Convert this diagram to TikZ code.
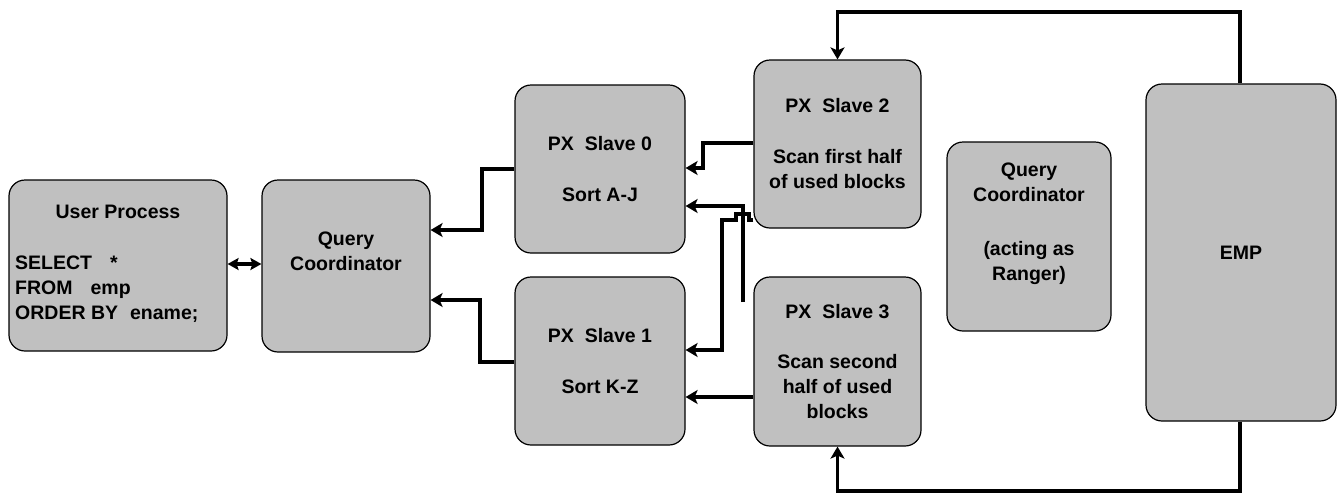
\documentclass[tikz,border=0pt]{standalone}
\usepackage{fontspec}
\setmainfont{Liberation Sans}
\usetikzlibrary{arrows.meta}

\definecolor{boxgray}{RGB}{192,192,192}

\tikzset{
	box/.style={draw=black, line width=1.2pt, fill=boxgray, rounded corners=16pt, inner sep=0pt, align=center, font=\bfseries\fontsize{19.5}{25}\selectfont},
	txt/.style={inner sep=0pt, align=center, font=\bfseries\fontsize{19.5}{25}\selectfont},
	conn/.style={line width=3.4pt, -{Stealth[length=12pt, width=14pt, inset=3pt]}},
	biconn/.style={line width=3.4pt, {Stealth[length=11pt, width=12pt, inset=2pt]}-{Stealth[length=11pt, width=12pt, inset=2pt]}}
}

\begin{document}
\begin{tikzpicture}[x=1pt, y=-1pt]
	\useasboundingbox (0,0) rectangle (1340,493);

	%user process with its query and the query coordinator
	\node[box, minimum width=218pt, minimum height=171pt] (up) at (118,265.5) {};
	\node[txt] (uptitle) at (118,212) {User Process};
	\node[txt, anchor=west, align=left] (upsql) at (15,289) {SELECT\hspace{18pt}*\\FROM\hspace{18pt}emp\\ORDER BY\hspace{12pt}ename;};
	\node[box, minimum width=168pt, minimum height=172pt] (qc) at (346,266) {};
	\node[txt] (qctxt) at (346,251) {Query\\Coordinator};

	%slaves that sort
	\node[box, minimum width=170pt, minimum height=168pt] (s0) at (600,169) {PX\ \ Slave 0\\[26pt]Sort A-J};
	\node[box, minimum width=170pt, minimum height=168pt] (s1) at (600,361) {PX\ \ Slave 1\\[26pt]Sort K-Z};

	%slaves that scan
	\node[box, minimum width=167pt, minimum height=168pt] (s2) at (837.5,144) {PX\ \ Slave 2\\[26pt]Scan first half\\of used blocks};
	\node[box, minimum width=167pt, minimum height=169pt] (s3) at (837.5,361.5) {PX\ \ Slave 3\\[25pt]Scan second\\half of used\\blocks};

	%ranger and the table
	\node[box, minimum width=164pt, minimum height=189pt] (rg) at (1029,236.5) {};
	\node[txt] (rgtxt) at (1029,223.5) {Query\\Coordinator\\[29pt](acting as\\Ranger)};
	\node[box, minimum width=190pt, minimum height=337pt] (emp) at (1241,252.5) {EMP};

	%results back to the coordinator
	\draw[biconn] (up.east |- 0,264) -- (qc.west |- 0,264);
	\draw[conn] (s0.west) -- (482,169) -- (482,230) -- (qc.east |- 0,230);
	\draw[conn] (s1.west |- 0,362) -- (480,362) -- (480,300) -- (qc.east |- 0,300);

	%rows from the scanning slaves to the sorting slaves
	\coordinate (loose) at (743,302);
	\draw[conn] (s2.west |- 0,143) -- (703,143) -- (703,168) -- (s0.east |- 0,168);
	\draw[conn] (loose) -- (743,206) -- (s0.east |- 0,206);
	\draw[conn] (s2.west |- 0,220) -- (749,220) -- (749,214) -- (736,214) -- (736,220) -- (722,220) -- (722,350) -- (s1.east |- 0,350);
	\draw[conn] (s3.west |- 0,397) -- (s1.east |- 0,397);

	%table blocks to the scanning slaves
	\draw[conn] (emp.north -| 1240,0) -- (1240,12) -- (s2.north |- 0,12) -- (s2.north);
	\draw[conn] (emp.south -| 1240,0) -- (1240,491) -- (s3.south |- 0,491) -- (s3.south);
\end{tikzpicture}
\end{document}
